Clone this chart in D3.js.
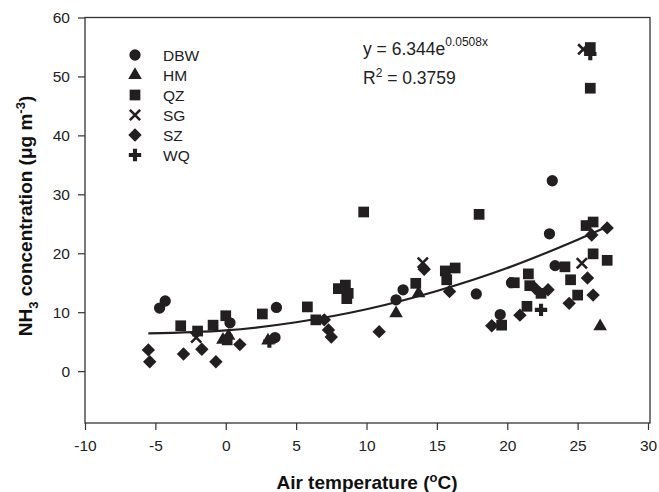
<!DOCTYPE html>
<html>
<head>
<meta charset="utf-8">
<script src="https://cdn.jsdelivr.net/npm/d3@7"></script>
<style>
  body { margin: 0; background: #fff; }
  svg { display: block; font-family: "Liberation Sans", Arial, sans-serif; }
</style>
</head>
<body>
<svg id="chart" width="659" height="492"></svg>
<script>
// ---------------- data ----------------
var sites = ["DBW", "HM", "QZ", "SG", "SZ", "WQ"];

var dbwX = [-4.7, -4.3, 0.3, 3.6, 3.5, 12.1, 12.6, 17.8, 19.5, 20.3, 23.0, 23.2, 23.4];
var dbwY = [10.7, 11.9, 8.2, 10.8, 5.7, 12.1, 13.8, 13.1, 9.6, 15.0, 23.3, 32.3, 17.9];

var hmX = [-0.2, 0.2, 3.0, 12.1, 13.7, 26.6];
var hmY = [5.3, 6.0, 5.2, 9.8, 13.2, 7.6];

var qzX = [-3.2, -2.0, -0.9, 0.0, 0.1, 2.6, 5.8, 6.4, 8.0, 8.5, 8.7, 8.6, 9.8, 13.5, 15.6, 15.7, 16.3,
           18.0, 19.6, 20.5, 21.4, 21.5, 21.6, 22.4, 24.1, 24.5, 25.0, 25.6, 25.9, 25.9, 26.1, 26.1, 27.1];
var qzY = [7.7, 6.8, 7.8, 9.4, 5.3, 9.7, 10.9, 8.7, 14.0, 14.6, 13.2, 12.3, 27.0, 14.9, 17.0, 15.5, 17.5,
           26.6, 7.8, 15.0, 11.0, 16.5, 14.5, 13.2, 17.7, 15.5, 12.9, 24.7, 54.9, 48.0, 25.3, 19.9, 18.8];

var sgX = [-2.1, 14.0, 25.3, 25.4];
var sgY = [5.7, 18.4, 18.3, 54.6];

var szX = [-5.5, -5.4, -3.0, -1.7, -0.7, 1.0, 7.0, 7.3, 7.5, 10.9, 14.1, 15.9, 18.9, 20.9, 22.0, 22.9, 24.4, 25.7, 26.0, 26.1, 27.1];
var szY = [3.6, 1.6, 2.9, 3.7, 1.6, 4.5, 8.7, 7.0, 5.8, 6.7, 17.3, 13.5, 7.7, 9.5, 14.0, 13.8, 11.5, 15.8, 23.1, 12.9, 24.3];

var wqX = [3.1, 22.4, 25.9];
var wqY = [5.0, 10.4, 53.8];

// fitted curve as drawn
var fitX = [-5.5, 0, 5, 10, 15, 20, 25, 27.1];
var fitY = [6.4, 6.9, 8.3, 10.5, 13.6, 17.5, 22.3, 24.5];

var xTicks = [-10, -5, 0, 5, 10, 15, 20, 25, 30];
var yTicks = [0, 10, 20, 30, 40, 50, 60];

// ---------------- setup ----------------
var ink = "#231f20";
var svg = d3.select("#chart");

var x = d3.scaleLinear().domain([-10, 30]).range([85, 648]);
var y = d3.scaleLinear().domain([-8.8, 60]).range([423, 17.5]);

// symbol for each site (SZ = square turned 45deg)
var shapes = {
    DBW: { type: d3.symbolCircle, size: 100, stroke: false, rot: 0 },
    HM:  { type: d3.symbolTriangle, size: 80, stroke: false, rot: 0 },
    QZ:  { type: d3.symbolSquare, size: 115, stroke: false, rot: 0 },
    SG:  { type: d3.symbolTimes, size: 70, stroke: true, rot: 0 },
    SZ:  { type: d3.symbolSquare, size: 90, stroke: false, rot: 45 },
    WQ:  { type: d3.symbolCross, size: 85, stroke: false, rot: 0 }
};

var series = [
    { name: "DBW", xs: dbwX, ys: dbwY },
    { name: "HM", xs: hmX, ys: hmY },
    { name: "QZ", xs: qzX, ys: qzY },
    { name: "SG", xs: sgX, ys: sgY },
    { name: "SZ", xs: szX, ys: szY },
    { name: "WQ", xs: wqX, ys: wqY }
];

function drawSymbol(sel, name) {
    var s = shapes[name];
    sel.attr("d", d3.symbol().type(s.type).size(s.size))
       .attr("fill", s.stroke ? "none" : ink)
       .attr("stroke", s.stroke ? ink : "none")
       .attr("stroke-width", s.stroke ? 2.6 : 0);
}

// ---------------- frame + axes ----------------
svg.append("rect")
    .attr("x", 85).attr("y", 17.5)
    .attr("width", 650 - 85).attr("height", 423 - 17.5)
    .attr("fill", "none").attr("stroke", "#333").attr("stroke-width", 1.3);

var xAxis = svg.append("g")
    .attr("transform", "translate(0,423)")
    .call(d3.axisBottom(x).tickValues(xTicks).tickFormat(d => String(d))
        .tickSize(7).tickSizeOuter(0).tickPadding(10));

var yAxis = svg.append("g")
    .attr("transform", "translate(85,0)")
    .call(d3.axisLeft(y).tickValues(yTicks).tickFormat(d => String(d))
        .tickSize(7).tickSizeOuter(0).tickPadding(8));

[xAxis, yAxis].forEach(function(a){
    a.select(".domain").remove();
    a.selectAll("line").attr("stroke", "#333").attr("stroke-width", 1.2);
    a.selectAll("text")
        .attr("fill", "#222")
        .style("font-size", "15.5px")
        .style("font-family", "'Liberation Sans', Arial, sans-serif");
});

// ---------------- fitted line ----------------
var fitPts = fitX.map(function(v, i){ return [v, fitY[i]]; });
svg.append("path")
    .datum(fitPts)
    .attr("d", d3.line().x(d => x(d[0])).y(d => y(d[1])).curve(d3.curveMonotoneX))
    .attr("fill", "none")
    .attr("stroke", ink)
    .attr("stroke-width", 2.2);

// ---------------- points ----------------
series.forEach(function(s){
    var pts = s.xs.map(function(v, i){ return { x: v, y: s.ys[i] }; });
    svg.append("g").selectAll("path")
        .data(pts)
        .enter()
        .append("path")
            .attr("transform", d => `translate(${x(d.x)},${y(d.y)}) rotate(${shapes[s.name].rot})`)
            .call(drawSymbol, s.name);
});

// ---------------- legend ----------------
var legend = svg.append("g");
sites.forEach(function(name, i){
    var ly = 55 + i * 20;
    legend.append("path")
        .attr("transform", `translate(135,${ly}) rotate(${shapes[name].rot})`)
        .call(drawSymbol, name);
    legend.append("text")
        .attr("x", 163).attr("y", ly)
        .attr("dy", "0.36em")
        .style("font-size", "15.5px")
        .attr("fill", "#222")
        .text(name);
});

// ---------------- equation ----------------
var eq = svg.append("text")
    .attr("x", 363).attr("y", 55)
    .style("font-size", "17.5px")
    .attr("fill", "#222");
eq.append("tspan").text("y = 6.344e");
eq.append("tspan").attr("dy", -9).style("font-size", "12px").text("0.0508x");

var r2 = svg.append("text")
    .attr("x", 363).attr("y", 84)
    .style("font-size", "17.5px")
    .attr("fill", "#222");
r2.append("tspan").text("R");
r2.append("tspan").attr("dy", -7).style("font-size", "12px").text("2");
r2.append("tspan").attr("dy", 7).text(" = 0.3759");

// ---------------- axis titles ----------------
var xt = svg.append("text")
    .attr("x", 367).attr("y", 489)
    .attr("text-anchor", "middle")
    .style("font-size", "19px")
    .style("font-weight", "bold")
    .attr("fill", "#111");
xt.append("tspan").text("Air temperature (");
xt.append("tspan").attr("dy", -7).style("font-size", "13px").text("o");
xt.append("tspan").attr("dy", 7).text("C)");

var yt = svg.append("text")
    .attr("transform", "translate(32,216) rotate(-90)")
    .attr("text-anchor", "middle")
    .style("font-size", "19px")
    .style("font-weight", "bold")
    .attr("fill", "#111");
yt.append("tspan").text("NH");
yt.append("tspan").attr("dy", 6).style("font-size", "13px").text("3");
yt.append("tspan").attr("dy", -6).text(" concentration (μg m");
yt.append("tspan").attr("dy", -7).style("font-size", "13px").text("-3");
yt.append("tspan").attr("dy", 7).text(")");
</script>
</body>
</html>
